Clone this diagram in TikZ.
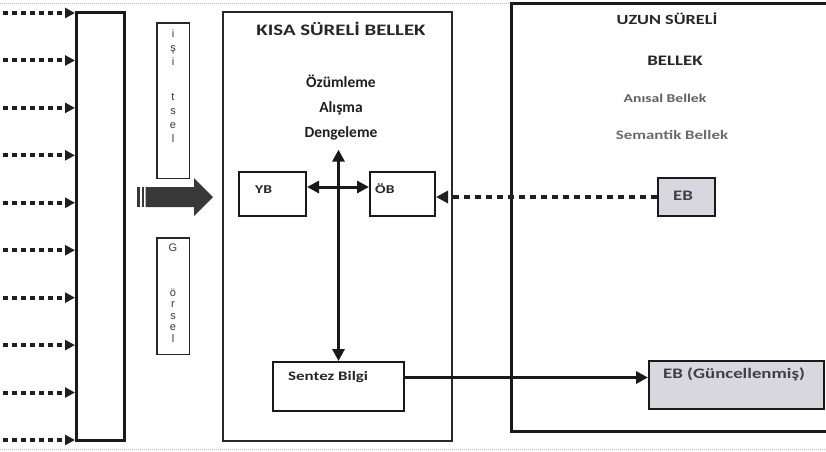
\documentclass[tikz,border=0pt]{standalone}
\usepackage{fontspec}
\setmainfont{Carlito}
\newfontfamily\widefont[FakeStretch=1.3]{Carlito}
\newfontfamily\harffont{Liberation Sans}
\usepackage{xcolor}
\definecolor{ebgray}{RGB}{216,214,222}
\definecolor{inkgray}{RGB}{40,40,40}
\usepackage{tikz}
\usetikzlibrary{arrows.meta}
\tikzset{
    thickbox/.style  = {rectangle, draw=black!90, line width=3pt, inner sep=0pt},
    thinbox/.style   = {rectangle, draw=inkgray, line width=1.6pt, inner sep=0pt},
    letterbox/.style = {rectangle, draw=inkgray, line width=1.5pt, inner sep=0pt},
    membox/.style    = {rectangle, draw=black!90, line width=2.4pt, inner sep=0pt},
    ebbox/.style     = {membox, fill=ebgray},
    title/.style     = {inner sep=0pt, anchor=base, text=black!85,
                        font=\widefont\bfseries\fontsize{14}{17}\selectfont},
    boxlbl/.style    = {inner sep=0pt, anchor=base west, text=black!85,
                        font=\widefont\bfseries\fontsize{13}{15}\selectfont},
    letters/.style   = {inner sep=0pt, anchor=north, align=center, text=black!78},
    solidarrow/.style = {-{Triangle[length=12pt,width=12pt]}, line width=3pt, draw=black!90},
    bothway/.style   = {{Triangle[length=12pt,width=12pt]}-{Triangle[length=12pt,width=12pt]},
                        line width=3pt, draw=black!90},
    dotarrow/.style  = {-{Triangle[length=10pt,width=10pt]}, line width=4pt,
                        dash pattern=on 5pt off 4pt, draw=black!88},
    dotback/.style   = {-{Triangle[length=12pt,width=12pt]}, line width=3.5pt,
                        dash pattern=on 6pt off 5pt, draw=black!88}
}

\begin{document}
\begin{tikzpicture}[x=1pt, y=-1pt]

\useasboundingbox (0,0) rectangle (826,451);
\fill[white] (0,0) rectangle (826,451);
\clip (0,0) rectangle (826,451);

% --- Page edges (scan) ---
\draw[gray!55, line width=0.7pt, dash pattern=on 1pt off 1pt] (0,3.5) -- (826,3.5);
\draw[gray!55, line width=0.7pt, dash pattern=on 1pt off 1pt] (0,449) -- (826,449);

% --- Sensory register and its inputs ---
\node[thickbox, minimum width=48pt, minimum height=428pt] (kayit) at (100.5,226.5) {};
\foreach \k in {0,...,9}
   \coordinate (in\k) at (3,{13+47.44*\k});
\foreach \k in {0,...,9}
   \draw[dotarrow] (in\k) -- (in\k -| kayit.west);

% --- Auditory / visual channels ---
\node[letterbox, minimum width=32.5pt, minimum height=155.5pt] (isitsel) at (173,100.5) {};
\node[letterbox, minimum width=32.5pt, minimum height=116.5pt] (gorsel)  at (173,296) {};
\node[letters, font=\harffont\fontsize{11}{14}\selectfont] (isitselT) at (173,29)
   {i\\ş\\i\\[21pt]t\\s\\e\\l};
\node[letters, font=\harffont\fontsize{11}{11.5}\selectfont] (gorselT) at (173,244)
   {G\\[33pt]ö\\r\\s\\e\\l};

% --- Striped block arrow ---
\fill[black!78] (145.5,187) -- (194,187) -- (194,178) -- (213,197)
   -- (194,216) -- (194,207) -- (145.5,207) -- cycle;
\fill[black!78] (137,187) rectangle (140,207);
\fill[black!78] (141.5,187) rectangle (144,207);

% --- Short-term memory ---
\node[thinbox, minimum width=229.4pt, minimum height=429.4pt] (kisa) at (337.5,226.5) {};
\node[title, font=\widefont\bfseries\fontsize{16}{19}\selectfont] (kisaT) at (341,35)
   {KISA SÜRELİ BELLEK};
\node[inner sep=0pt, anchor=north, align=center, text=black!88,
      font=\bfseries\fontsize{15.5}{25}\selectfont] (ozum) at (341,75)
   {Özümleme\\Alışma\\Dengeleme};

\node[membox, minimum width=66.6pt, minimum height=43.6pt]  (yb)     at (272.5,194) {};
\node[membox, minimum width=64.6pt, minimum height=43.6pt]  (ob)     at (402.5,194) {};
\node[membox, minimum width=130.6pt, minimum height=48.6pt] (sentez) at (338.5,386.5) {};

\node[boxlbl, font=\widefont\bfseries\fontsize{12}{14}\selectfont] (ybT)
   at ([xshift=17pt,yshift=-22pt]yb.north west) {YB};
\node[boxlbl, font=\widefont\bfseries\fontsize{12}{14}\selectfont] (obT)
   at ([xshift=6pt,yshift=-22pt]ob.north west) {ÖB};
\node[boxlbl] (sentezT) at ([xshift=16pt,yshift=-19pt]sentez.north west) {Sentez Bilgi};

% --- Long-term memory ---
\node[thickbox, minimum width=332pt, minimum height=428pt] (uzun) at (677.5,217.5) {};
\node[title] (uzunT)  at (667,24)  {UZUN SÜRELİ};
\node[title, font=\widefont\bfseries\fontsize{14.5}{17}\selectfont] (uzunT2) at (675,65) {BELLEK};
\node[title, text=black!62, font=\widefont\bfseries\fontsize{12}{14}\selectfont]
   (anisal) at (665,102) {Anısal Bellek};
\node[title, text=black!58, font=\widefont\bfseries\fontsize{13}{15}\selectfont]
   (semantik) at (672,139) {Semantik Bellek};

\node[ebbox, minimum width=56.6pt, minimum height=37.6pt]  (eb)  at (686.5,197) {};
\node[ebbox, minimum width=174.6pt, minimum height=47.6pt] (ebg) at (736.5,385) {};
\node[boxlbl, text=black!75, font=\widefont\bfseries\fontsize{14.5}{17}\selectfont] (ebT)
   at ([xshift=16pt,yshift=-23pt]eb.north west) {EB};
\node[boxlbl, text=black!75, font=\widefont\bfseries\fontsize{14.5}{17}\selectfont] (ebgT)
   at ([xshift=15pt,yshift=-18pt]ebg.north west) {EB (Güncellenmiş)};

% --- Connectors ---
\draw[bothway] ([yshift=7pt]yb.east) -- ([yshift=7pt]yb.east -| ob.west);
\coordinate (ozumtip) at ([yshift=-9pt]ozum.south);
\draw[bothway] (sentez.north) -- (sentez.north |- ozumtip);
\draw[dotback] (eb.west) -- (eb.west -| ob.east);
\draw[solidarrow] ([yshift=9pt]sentez.east) -- ([yshift=9pt]sentez.east -| ebg.west);

\end{tikzpicture}
\end{document}
